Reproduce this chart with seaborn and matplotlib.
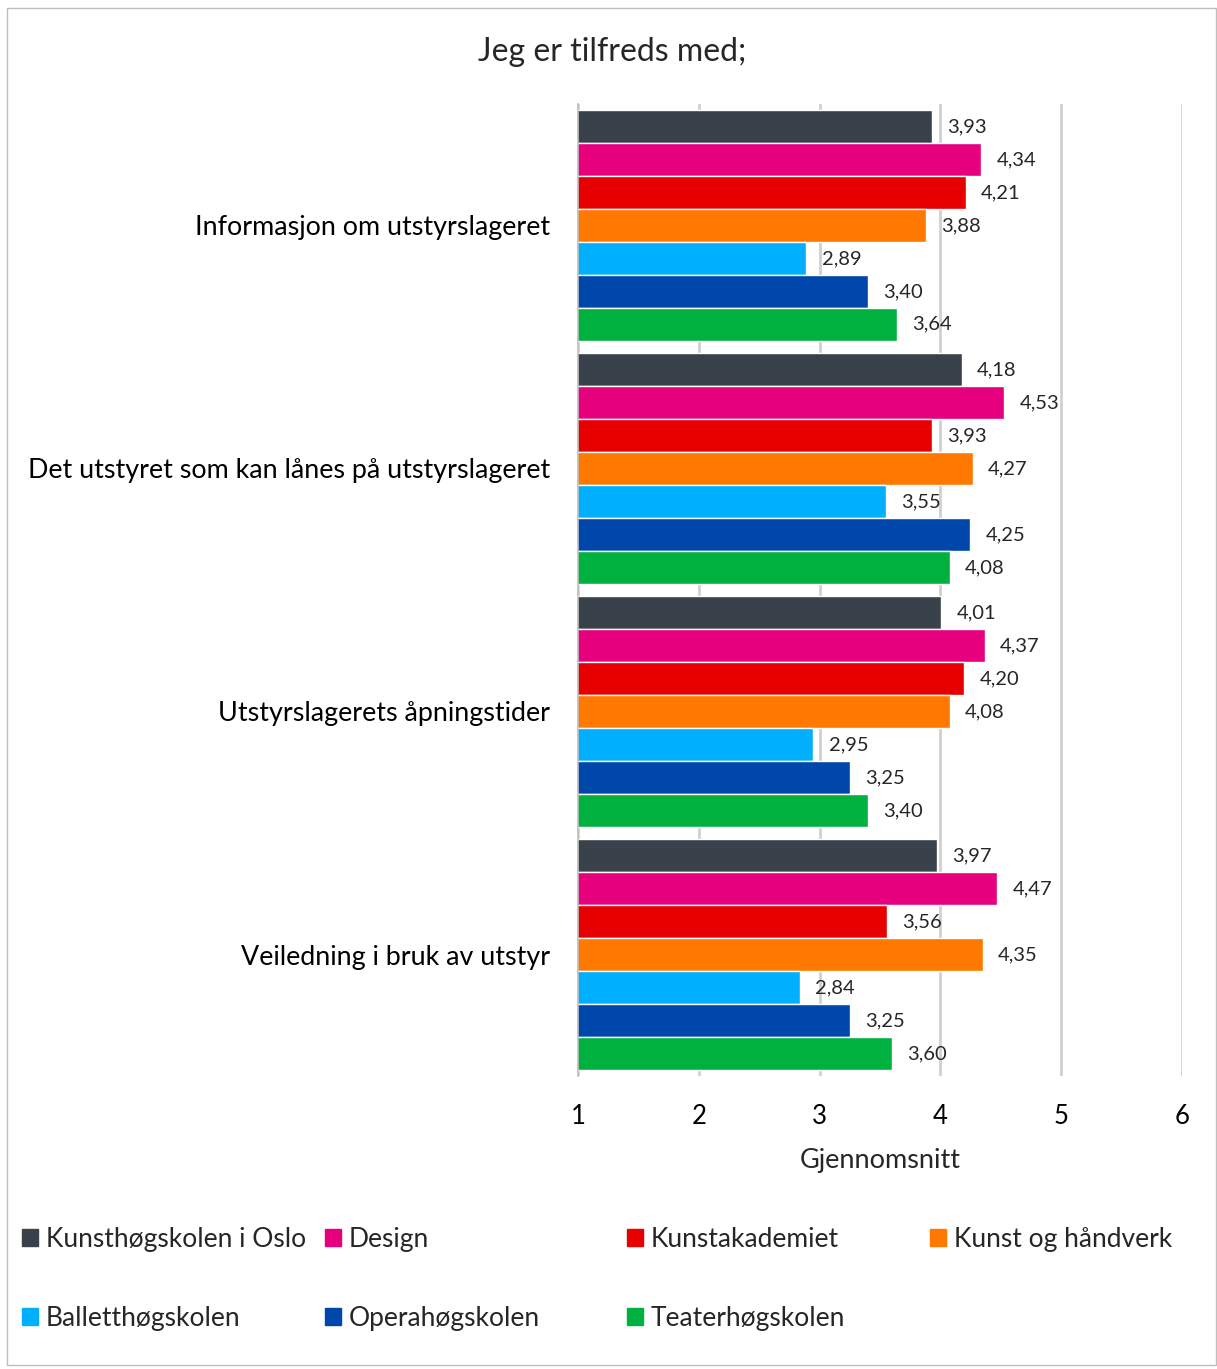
import pandas as pd
import matplotlib
matplotlib.use("Agg")
import matplotlib.pyplot as plt
from matplotlib.patches import Rectangle
import seaborn as sns

kategorier = [
    "Informasjon om utstyrslageret",
    "Det utstyret som kan lånes på utstyrslageret",
    "Utstyrslagerets åpningstider",
    "Veiledning i bruk av utstyr",
]
skoler = [
    "Kunsthøgskolen i Oslo", "Design", "Kunstakademiet", "Kunst og håndverk",
    "Balletthøgskolen", "Operahøgskolen", "Teaterhøgskolen",
]
farger = ["#39424a", "#e6007e", "#e60000", "#ff7800", "#00b0ff", "#0047ab", "#00b140"]

verdier = {
    "Kunsthøgskolen i Oslo": [3.93, 4.18, 4.01, 3.97],
    "Design": [4.34, 4.53, 4.37, 4.47],
    "Kunstakademiet": [4.21, 3.93, 4.20, 3.56],
    "Kunst og håndverk": [3.88, 4.27, 4.08, 4.35],
    "Balletthøgskolen": [2.89, 3.55, 2.95, 2.84],
    "Operahøgskolen": [3.40, 4.25, 3.25, 3.25],
    "Teaterhøgskolen": [3.64, 4.08, 3.40, 3.60],
}

rows = []
for s in skoler:
    for k, v in zip(kategorier, verdier[s]):
        rows.append({"kategori": k, "skole": s, "snitt": v})
df = pd.DataFrame(rows)

sns.set_theme(style="white")
plt.rcParams["font.family"] = ["Lato", "DejaVu Sans"]

fig = plt.figure(figsize=(12.17, 13.69), dpi=100)
ax = fig.add_axes([0.475, 0.2140, 0.496, 0.7101])

sns.barplot(data=df, y="kategori", x="snitt", hue="skole", order=kategorier,
            hue_order=skoler, palette=farger, orient="h", width=0.95,
            saturation=1, ax=ax, legend=False, errorbar=None)

ax.set_xlim(1, 6)
ax.set_ylim(3.5, -0.5)
ax.set_xticks([1, 2, 3, 4, 5, 6])
ax.grid(axis="x", color="#d0d0d0", linewidth=2)
ax.set_axisbelow(True)
for sp in ["top", "right", "bottom"]:
    ax.spines[sp].set_visible(False)
ax.spines["left"].set_color("#bfbfbf")
ax.spines["left"].set_linewidth(1.2)
ax.tick_params(axis="x", labelsize=18.5, length=0, pad=20, colors="black")
ax.tick_params(axis="y", labelsize=19.4, length=0, pad=20, colors="black")
ax.set_ylabel("")
ax.set_xlabel("Gjennomsnitt", fontsize=19.5, labelpad=14)

for cont, s in zip(ax.containers, skoler):
    labs = [f"{v:.2f}".replace(".", ",") for v in verdier[s]]
    ax.bar_label(cont, labels=labs, padding=11, fontsize=14.5)

fig.text(0.503, 0.962, "Jeg er tilfreds med;", ha="center", va="center", fontsize=23)

# legend: four columns at fixed positions
handles = [Rectangle((0, 0), 1, 1, color=c) for c in farger]
kolonner = [[0, 4], [1, 5], [2, 6], [3]]
xs = [0.0095, 0.2585, 0.5065, 0.7555]
for x, idx in zip(xs, kolonner):
    fig.legend([handles[i] for i in idx], [skoler[i] for i in idx],
               loc="upper left", bbox_to_anchor=(x, 0.1117), frameon=False,
               fontsize=19, labelspacing=2.05, handlelength=0.6,
               handleheight=0.6, handletextpad=0.3, borderaxespad=0)

fig.patches.append(Rectangle((0.006, 0.003), 0.993, 0.991, transform=fig.transFigure,
                             fill=False, edgecolor="#bfbfbf", linewidth=1))

fig.savefig("out.png", dpi=100)
